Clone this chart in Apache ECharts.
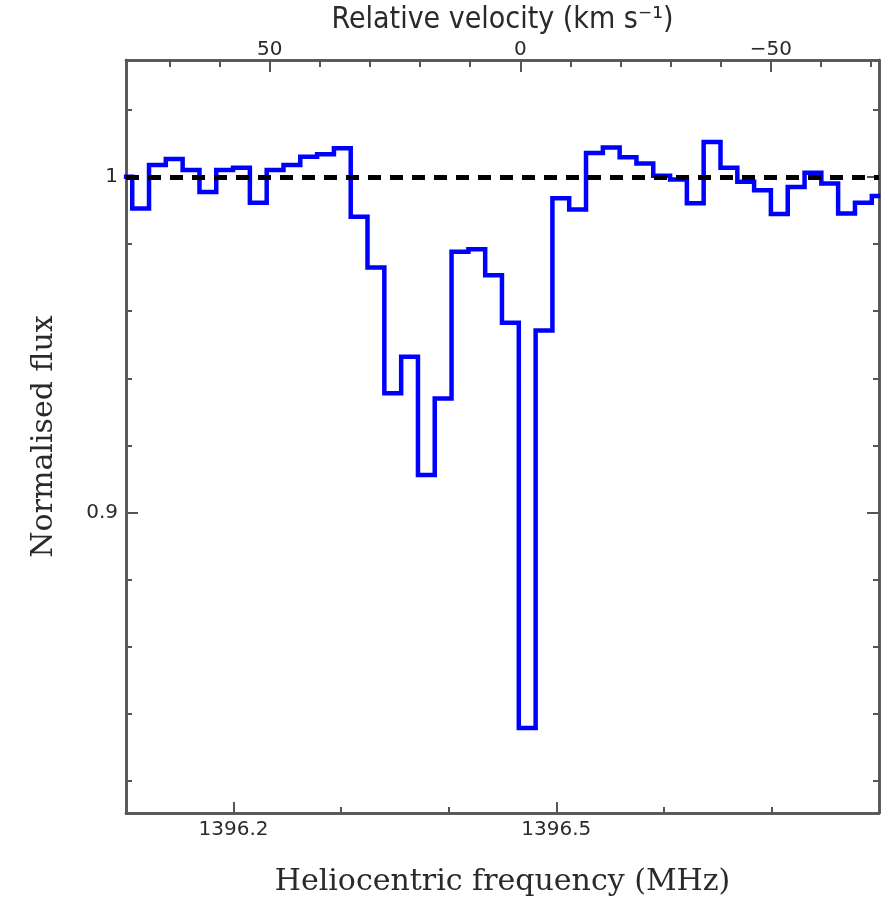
<!DOCTYPE html>
<html><head><meta charset="utf-8">
<script src="https://cdn.jsdelivr.net/npm/echarts@6/dist/echarts.min.js"></script>
<style>html,body{margin:0;padding:0;background:#fff}#c{width:888px;height:898px}</style>
</head><body><div id="c"></div>
<script>
// channel centres (MHz) and normalised flux per channel
const freqMHz = [1396.0980,1396.1136,1396.1292,1396.1448,1396.1605,1396.1761,1396.1917,1396.2073,
  1396.2230,1396.2386,1396.2542,1396.2698,1396.2855,1396.3011,1396.3167,1396.3323,1396.3480,1396.3636,
  1396.3792,1396.3948,1396.4105,1396.4261,1396.4417,1396.4573,1396.4730,1396.4886,1396.5042,1396.5198,
  1396.5355,1396.5511,1396.5667,1396.5823,1396.5980,1396.6136,1396.6292,1396.6448,1396.6605,1396.6761,
  1396.6917,1396.7073,1396.7230,1396.7386,1396.7542,1396.7698,1396.7855,1396.8011];
const flux = [1.000,0.9906,1.0035,1.0053,1.0020,0.9955,1.0020,1.0027,
  0.9923,1.0020,1.0035,1.0060,1.0067,1.0085,0.9881,0.9730,0.9355,0.9464,
  0.9112,0.9340,0.9777,0.9784,0.9707,0.9565,0.8358,0.9542,0.9936,0.9903,
  1.0071,1.0087,1.0058,1.0040,1.0003,0.9992,0.9921,1.0104,1.0027,0.9985,
  0.9960,0.9889,0.9970,1.0012,0.9980,0.9891,0.9923,0.9943];
const freqRange = [1396.1, 1396.8];
const fluxRange = [0.8105, 1.0348];
const freqMinorTicks = [1396.2,1396.3,1396.4,1396.5,1396.6,1396.7];
const freqMajorTicks = [1396.2,1396.5];
const velMinorTicks = [70,60,50,40,30,20,10,0,-10,-20,-30,-40,-50,-60,-70];
const velMajorTicks = [50,0,-50];
const fluxMinorTicks = [0.82,0.84,0.86,0.88,0.90,0.92,0.94,0.96,0.98,1.00,1.02];
const fluxMajorTicks = [0.9,1];
const continuumLevel = 1;
const restFreqMHz = 1396.4666;   // frequency of zero relative velocity
const C_KMS = 299792.458;
const velRange = freqRange.map(f => C_KMS * (restFreqMHz - f) / restFreqMHz);

const AX = '#555', TXT = '#2a2a2a';
const labelFont = {color: TXT, fontFamily: '"DejaVu Sans",sans-serif', fontSize: 20};

function axis(kind, pos, min, max, ticks, len, withLabels, extra) {
  return Object.assign({
    type: 'value', position: pos, min: min, max: max, scale: true,
    splitLine: {show: false},
    axisLine: {show: true, onZero: false, lineStyle: {color: AX, width: 2.5}},
    axisTick: {show: true, inside: true, length: len, customValues: ticks, lineStyle: {color: AX, width: 2}},
    axisLabel: Object.assign({show: withLabels, customValues: ticks}, labelFont),
    silent: true
  }, extra || {});
}

const chart = echarts.init(document.getElementById('c'), null, {renderer: 'canvas'});
chart.setOption({
  animation: false,
  backgroundColor: '#fff',
  grid: {left: 126, right: 9, top: 60, bottom: 85, containLabel: false, outerBoundsMode: 'none'},
  xAxis: [
    axis('x', 'bottom', freqRange[0], freqRange[1], freqMinorTicks, 6, false),
    axis('x', 'bottom', freqRange[0], freqRange[1], freqMajorTicks, 11, true, {
      axisLabel: Object.assign({show: true, customValues: freqMajorTicks, margin: 7,
        formatter: v => v.toFixed(1)}, labelFont),
      name: 'Heliocentric frequency (MHz)', nameLocation: 'middle', nameGap: 54,
      nameTextStyle: {color: TXT, fontFamily: '"DejaVu Serif",serif', fontSize: 30}
    }),
    axis('x', 'top', velRange[1], velRange[0], velMinorTicks, 7, false, {inverse: true}),
    axis('x', 'top', velRange[1], velRange[0], velMajorTicks, 12, true, {
      inverse: true,
      axisLabel: Object.assign({show: true, customValues: velMajorTicks, margin: 0,
        formatter: v => (v < 0 ? '\u2212' + Math.abs(v) : String(v))}, labelFont),
      name: 'Relative velocity (km s\u207B\u00B9)', nameLocation: 'middle', nameGap: 19,
      nameTextStyle: {color: TXT, fontFamily: '"DejaVu Sans Condensed","DejaVu Sans",sans-serif', fontSize: 30}
    })
  ],
  yAxis: [
    axis('y', 'left', fluxRange[0], fluxRange[1], fluxMinorTicks, 6, false),
    axis('y', 'left', fluxRange[0], fluxRange[1], fluxMajorTicks, 12, true, {
      axisLabel: Object.assign({show: true, customValues: fluxMajorTicks, margin: 8,
        formatter: v => String(+v.toFixed(2))}, labelFont),
      name: 'Normalised flux', nameLocation: 'middle', nameGap: 67, nameRotate: 90,
      nameTextStyle: {color: TXT, fontFamily: '"DejaVu Serif",serif', fontSize: 30}
    }),
    axis('y', 'right', fluxRange[0], fluxRange[1], fluxMinorTicks, 6, false),
    axis('y', 'right', fluxRange[0], fluxRange[1], fluxMajorTicks, 12, false)
  ],
  series: [{
    type: 'line', xAxisIndex: 0, yAxisIndex: 0,
    step: 'middle', showSymbol: false, symbol: 'none', clip: true,
    data: freqMHz.map((f, i) => [f, flux[i]]),
    lineStyle: {color: '#0000ff', width: 4.5, join: 'miter', cap: 'butt'},
    markLine: {
      silent: true, symbol: 'none', animation: false,
      label: {show: false},
      lineStyle: {color: '#000', width: 5, type: [13, 9]},
      data: [{yAxis: continuumLevel}]
    },
    z: 3
  }]
});
</script></body></html>
